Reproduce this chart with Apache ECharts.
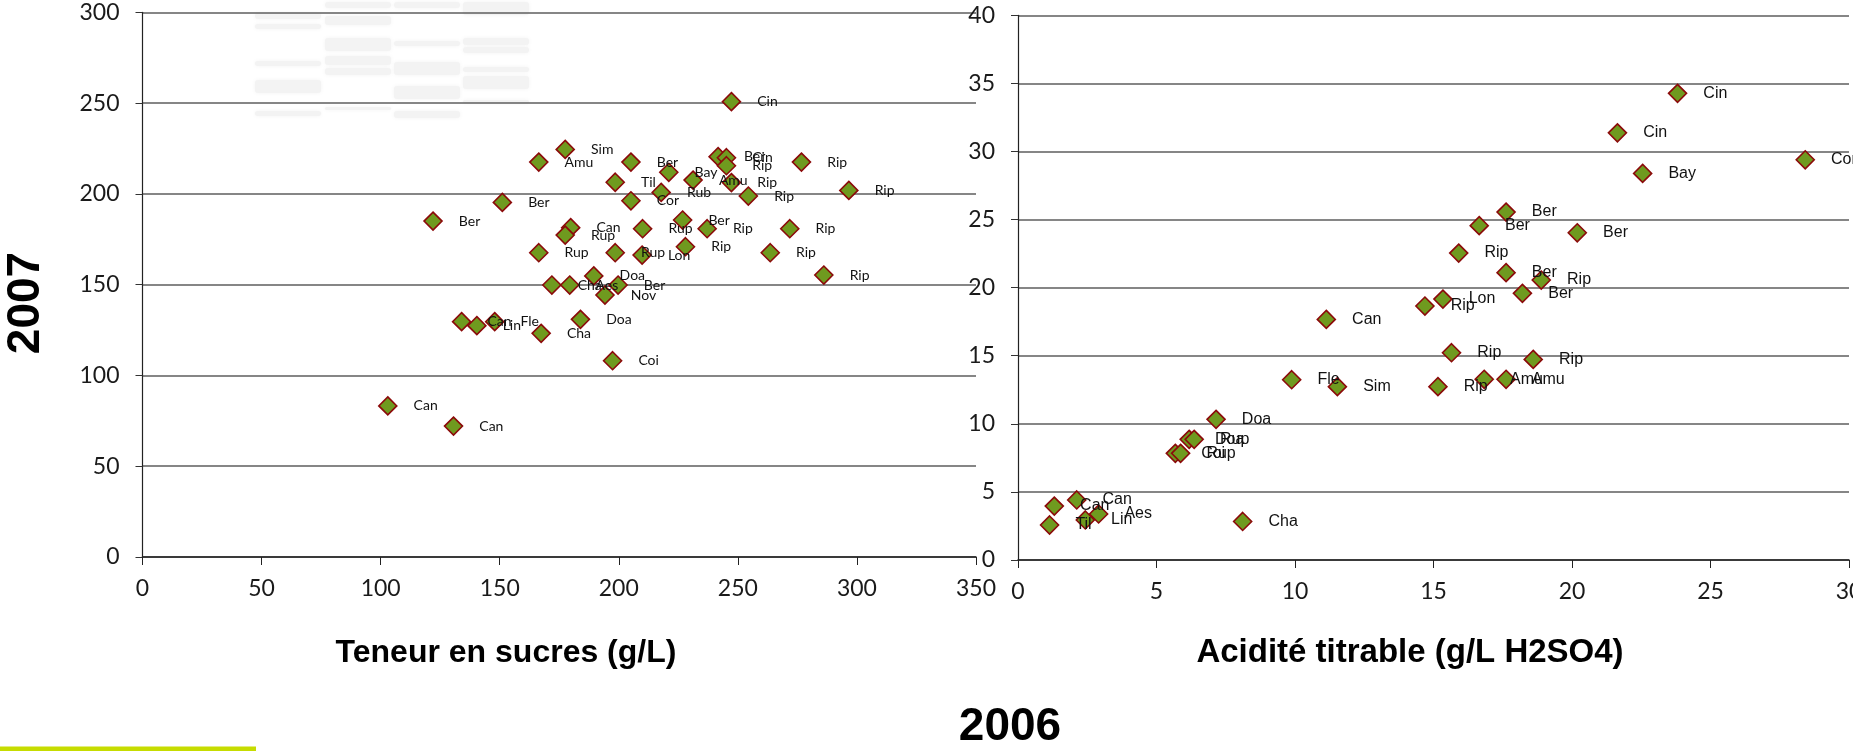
<!DOCTYPE html>
<html>
<head>
<meta charset="utf-8">
<script src="https://cdn.jsdelivr.net/npm/echarts@6/dist/echarts.min.js"></script>
<style>
html,body{margin:0;padding:0;background:#fff;overflow:hidden;}
#chart{width:1853px;height:751px;}
</style>
</head>
<body>
<div id="chart"></div>
<script>
// Teneur en sucres (g/L) : 2006 (x) vs 2007 (y)
var sugarNames = ['Cin','Sim','Amu','Ber','Ber','Cin','Rip','Bay','Amu','Rip','Til','Rub','Rip','Cor','Rip','Rip','Ber','Ber','Can','Rup','Rup','Ber','Rip','Rip','Rip','Rup','Rup','Lon','Rip','Rip','Doa','Cha','Aes','Ber','Nov','Can','Lin','Fle','Doa','Cha','Coi','Can','Can'];
var sugar2006 = [247.3,177.5,166.4,205.1,241.7,245.2,245.2,221.0,231.2,247.3,198.5,217.8,254.4,205.1,276.7,296.6,151.1,122.0,179.8,177.5,210.0,226.8,237.1,271.8,228.0,166.4,198.5,209.8,263.6,286.1,189.5,171.9,179.4,199.7,194.2,134.0,140.4,147.9,183.9,167.4,197.4,103.0,130.6];
var sugar2007 = [250.8,224.5,217.5,217.5,220.5,219.9,215.5,211.9,207.6,206.2,206.4,200.8,198.8,196.2,217.5,201.9,195.3,185.0,181.4,177.3,180.8,185.6,180.8,180.8,170.9,167.6,167.6,166.3,167.6,155.3,154.8,149.8,149.8,149.8,144.3,129.6,127.4,129.6,130.9,123.2,108.1,83.2,72.1];

// Acidité titrable (g/L H2SO4) : 2006 (x) vs 2007 (y)
var acidNames = ['Cin','Cin','Cor','Bay','Ber','Ber','Ber','Rip','Ber','Rip','Ber','Lon','Rip','Can','Rip','Rip','Fle','Sim','Rip','Amu','Amu','Doa','Doa','Rup','Coi','Rup','Can','Can','Aes','Lin','Til','Cha'];
var acid2006 = [23.81,21.64,28.42,22.55,17.62,16.65,20.19,15.91,17.62,18.89,18.21,15.34,14.69,11.13,15.65,18.60,9.88,11.53,15.16,16.83,17.62,7.15,6.18,6.36,5.68,5.87,2.12,1.31,2.91,2.43,1.14,8.11];
var acid2007 = [34.27,31.37,29.39,28.39,25.55,24.55,24.03,22.54,21.10,20.56,19.58,19.16,18.65,17.67,15.22,14.73,13.24,12.73,12.73,13.27,13.27,10.33,8.86,8.86,7.83,7.83,4.41,3.96,3.38,2.94,2.57,2.83];

var sugarTicks = {min:0, max:350, interval:50};
var sugarYTicks = {min:0, max:300, interval:50};
var acidTicks = {min:0, max:30, interval:5};
var acidYTicks = {min:0, max:40, interval:5};

function pts(names, xs, ys){
  return names.map(function(n,i){ return {name:n, value:[xs[i], ys[i]]}; });
}

var tickFont = 'Lato';
function xAx(idx, t){
  return {gridIndex:idx, type:'value', min:t.min, max:t.max, interval:t.interval,
    axisLine:{show:true, onZero:false, lineStyle:{color:'#222', width:1.5}},
    axisTick:{show:true, length:8, lineStyle:{color:'#222', width:1}},
    axisLabel:{show:true, margin:20, fontFamily:tickFont, fontSize:23, color:'#1a1a1a', showMaxLabel:true, showMinLabel:true, hideOverlap:false},
    splitLine:{show:false}};
}
function yAx(idx, t){
  return {gridIndex:idx, type:'value', min:t.min, max:t.max, interval:t.interval,
    axisLine:{show:true, lineStyle:{color:'#222', width:1.2}},
    axisTick:{show:true, length:7, lineStyle:{color:'#333', width:1}},
    axisLabel:{show:true, margin:23, fontFamily:tickFont, fontSize:23, color:'#1a1a1a', showMaxLabel:true, showMinLabel:true},
    splitLine:{show:true, lineStyle:{color:'#5e5e5e', width:1.6}}};
}
function ser(idx, data, labelFont, labelSize){
  return {type:'scatter', xAxisIndex:idx, yAxisIndex:idx, data:data, symbol:'diamond', symbolSize:18,
    clip:false,
    itemStyle:{color:'#6f9a1f', borderColor:'#8b0a0a', borderWidth:1.6, opacity:1},
    label:{show:true, position:'right', distance:16, formatter:'{b}', fontFamily:labelFont, fontSize:labelSize, color:'#111'},
    emphasis:{disabled:true}, z:3};
}

// faint background artefacts (decoration only)
var ghost = [
  [255,13,66,6],[255,24,66,5],[255,61,66,5],[255,80,66,13],[255,111,66,5],
  [325,2,66,6],[325,16,66,9],[325,38,66,13],[325,56,66,9],[325,68,66,7],[325,107,66,3],
  [394,2,66,6],[394,41,66,5],[394,62,66,13],[394,86,66,13],[394,111,66,7],
  [463,2,66,13],[463,38,66,7],[463,47,66,6],[463,67,66,5],[463,76,66,13],[463,100,66,3]
];
var graphics = ghost.map(function(r){
  return {type:'rect', z:-1, shape:{x:r[0], y:r[1], width:r[2], height:r[3], r:3}, style:{fill:'#f3f3f3', shadowBlur:4, shadowColor:'#f3f3f3'}};
});
graphics.push(
  {type:'text', x:506, y:653, style:{text:'Teneur en sucres (g/L)', font:'bold 32px "Liberation Sans"', fill:'#000', textAlign:'center', textVerticalAlign:'middle'}},
  {type:'text', x:1410, y:653, style:{text:'Acidité titrable (g/L H2SO4)', font:'bold 33px "Liberation Sans"', fill:'#000', textAlign:'center', textVerticalAlign:'middle'}},
  {type:'text', x:1010, y:727, style:{text:'2006', font:'bold 46px "Liberation Sans"', fill:'#000', textAlign:'center', textVerticalAlign:'middle'}},
  {type:'text', x:26, y:303, rotation:Math.PI/2, style:{text:'2007', font:'bold 46px "Liberation Sans"', fill:'#000', textAlign:'center', textVerticalAlign:'middle'}},
  {type:'rect', shape:{x:0, y:746.5, width:256, height:5}, style:{fill:'#c6dc00'}}
);

var chart = echarts.init(document.getElementById('chart'), null, {renderer:'canvas'});
chart.setOption({
  animation:false,
  backgroundColor:'#ffffff',
  grid:[
    {left:142.5, top:12.3, width:833.5, height:544.7, containLabel:false, outerBoundsMode:'none'},
    {left:1018, top:15.3, width:831, height:544.7, containLabel:false, outerBoundsMode:'none'}
  ],
  xAxis:[xAx(0, sugarTicks), xAx(1, acidTicks)],
  yAxis:[yAx(0, sugarYTicks), yAx(1, acidYTicks)],
  series:[
    ser(0, pts(sugarNames, sugar2006, sugar2007), 'Lato', 14),
    ser(1, pts(acidNames, acid2006, acid2007), '"Liberation Sans"', 16)
  ],
  graphic:graphics
});
</script>
</body>
</html>
